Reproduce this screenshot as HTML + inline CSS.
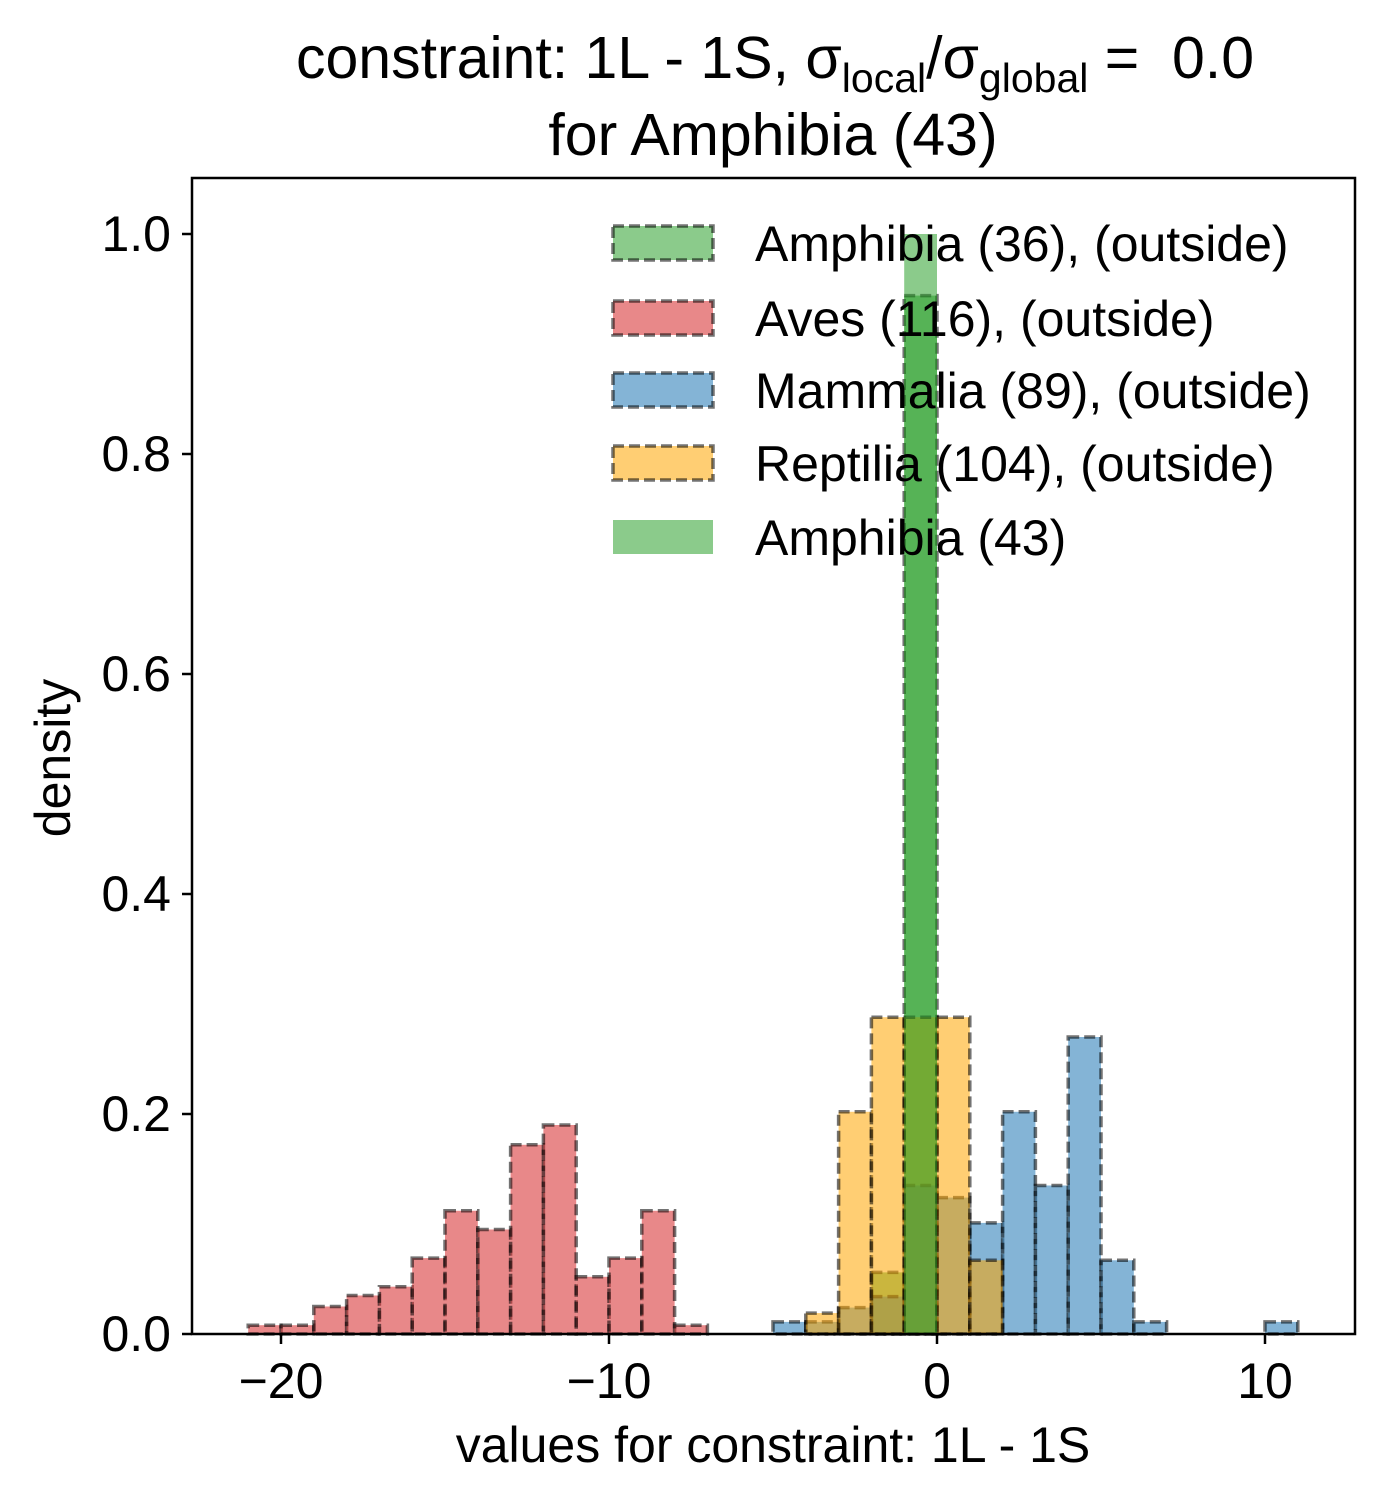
<!DOCTYPE html>
<html><head><meta charset="utf-8"><style>
body{margin:0;background:#fff;}
svg text{font-family:"Liberation Sans",sans-serif;fill:#000;}
</style></head><body>
<svg id="chart" width="1384" height="1502" xmlns="http://www.w3.org/2000/svg">
<text x="775" y="78" font-size="59" text-anchor="middle">constraint: 1L - 1S, σ<tspan font-size="41" dy="14">local</tspan><tspan dy="-14">/σ</tspan><tspan font-size="41" dy="14">global</tspan><tspan dy="-14"> = &#160;0.0</tspan></text>
<text x="773" y="155" font-size="59" text-anchor="middle">for Amphibia (43)</text>
<g id="bars"></g>
<rect x="192" y="178" width="1163" height="1156" fill="none" stroke="#000" stroke-width="2.5"/>
<g id="axes"></g>
<text x="773" y="1462" font-size="50" text-anchor="middle">values for constraint: 1L - 1S</text>
<text transform="translate(70,758) rotate(-90)" font-size="50" text-anchor="middle">density</text>
<g id="legend"></g>
</svg>
<script>
const binStarts = [-21,-20,-19,-18,-17,-16,-15,-14,-13,-12,-11,-10,-9,-8,-7,-6,-5,-4,-3,-2,-1,0,1,2,3,4,5,6,7,8,9,10];
const amphOut  = [0,0,0,0,0,0,0,0,0,0,0,0,0,0,0,0,0,0,0,0.056,0.944,0,0,0,0,0,0,0,0,0,0,0];
const aves     = [0.008,0.008,0.025,0.035,0.043,0.069,0.112,0.095,0.172,0.19,0.052,0.069,0.112,0.008,0,0,0,0,0,0,0,0,0,0,0,0,0,0,0,0,0,0];
const mammalia = [0,0,0,0,0,0,0,0,0,0,0,0,0,0,0,0,0.011,0.011,0.024,0.034,0.135,0.124,0.101,0.202,0.135,0.27,0.067,0.011,0,0,0,0.011];
const reptilia = [0,0,0,0,0,0,0,0,0,0,0,0,0,0,0,0,0,0.019,0.202,0.288,0.288,0.288,0.067,0,0,0,0,0,0,0,0,0];
const amphIn   = [0,0,0,0,0,0,0,0,0,0,0,0,0,0,0,0,0,0,0,0,1.0,0,0,0,0,0,0,0,0,0,0,0];
const xTicks = [-20,-10,0,10];
const xTickLabels = ["\u221220","\u221210","0","10"];
const yTicks = [0,0.2,0.4,0.6,0.8,1.0];
const yTickLabels = ["0.0","0.2","0.4","0.6","0.8","1.0"];
const legendLabels = ["Amphibia (36), (outside)","Aves (116), (outside)","Mammalia (89), (outside)","Reptilia (104), (outside)","Amphibia (43)"];

const NS="http://www.w3.org/2000/svg";
const xs = v => 937 + v*32.8;
const ys = v => 1334 - v*1100;
function mk(tag, attrs, parent){const e=document.createElementNS(NS,tag);for(const k in attrs)e.setAttribute(k,attrs[k]);parent.appendChild(e);return e;}
const bars=document.getElementById('bars');
const series=[
 {d:amphOut,fill:'#2ca02c',edge:true,name:'amphibia-outside'},
 {d:aves,fill:'#d62728',edge:true,name:'aves'},
 {d:mammalia,fill:'#1f77b4',edge:true,name:'mammalia'},
 {d:reptilia,fill:'#ffa500',edge:true,name:'reptilia'},
 {d:amphIn,fill:'#2ca02c',edge:false,name:'amphibia-inside'}];
series.forEach(s=>{
 s.d.forEach((v,i)=>{ if(v<=0) return;
  const x0=xs(binStarts[i]), x1=xs(binStarts[i]+1);
  const r=mk('rect',{x:x0,y:ys(v),width:x1-x0,height:ys(0)-ys(v),fill:s.fill,'fill-opacity':0.55},bars);
  
  
  if(s.edge){r.setAttribute('stroke','rgba(0,0,0,0.55)');r.setAttribute('stroke-width','3.5');r.setAttribute('stroke-dasharray','11,5');}
 });
});
const ax=document.getElementById('axes');
xTicks.forEach((t,i)=>{
 const l=mk('line',{x1:xs(t),x2:xs(t),y1:1334,y2:1344,stroke:'#000','stroke-width':2.5},ax);
 
 
 const tx=mk('text',{x:xs(t),y:1398,'font-size':50,'text-anchor':'middle'},ax);
 tx.textContent=xTickLabels[i];
 
 
});
yTicks.forEach((t,i)=>{
 const l=mk('line',{x1:182,x2:192,y1:ys(t),y2:ys(t),stroke:'#000','stroke-width':2.5},ax);
 
 
 const tx=mk('text',{x:171,y:ys(t)+17,'font-size':50,'text-anchor':'end'},ax);
 tx.textContent=yTickLabels[i];
 
 
});
const lg=document.getElementById('legend');
const lgY=[243,318,390,463,537];
series.forEach((s,i)=>{
 const r=mk('rect',{x:613,y:lgY[i]-17,width:100,height:34,fill:s.fill,'fill-opacity':0.55},lg);
 if(s.edge){r.setAttribute('stroke','rgba(0,0,0,0.55)');r.setAttribute('stroke-width','3.5');r.setAttribute('stroke-dasharray','11,5');}
 
 
 const tx=mk('text',{x:755,y:lgY[i]+18,'font-size':50},lg);
 tx.textContent=legendLabels[i];
 
 
});
</script>
</body></html>
